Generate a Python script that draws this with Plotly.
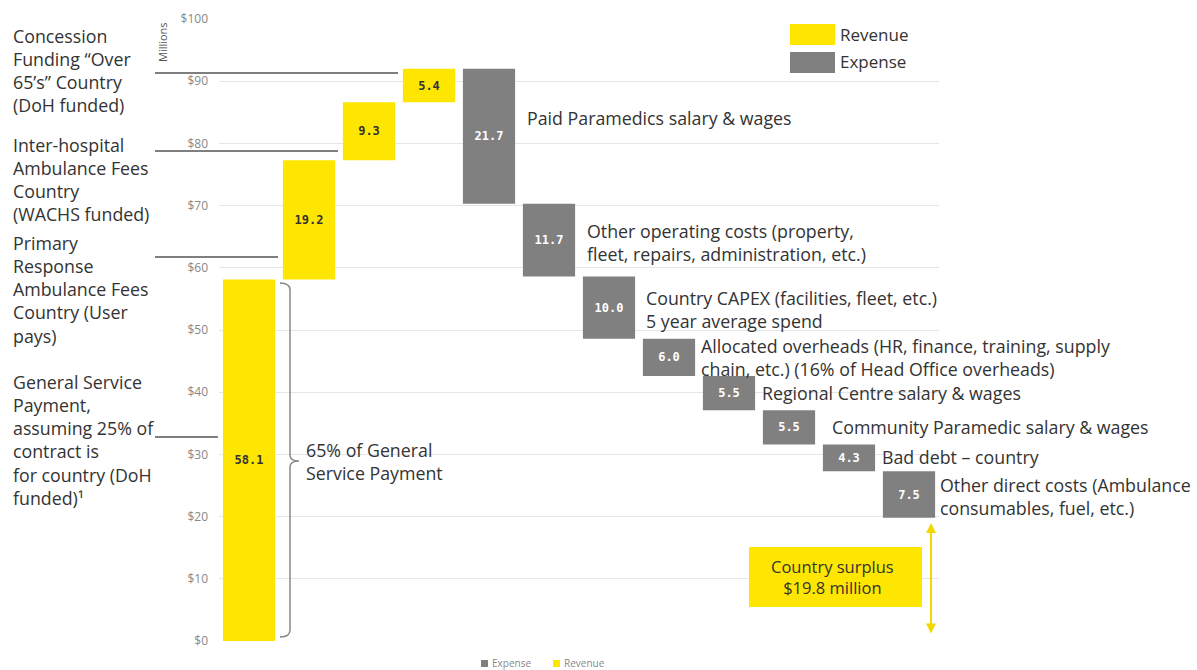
import plotly.graph_objects as go

# ---------------- data ----------------
categories = [
    "General Service Payment",
    "Primary Response Ambulance Fees",
    "Inter-hospital Ambulance Fees",
    "Concession Funding",
    "Paid Paramedics salary & wages",
    "Other operating costs",
    "Country CAPEX",
    "Allocated overheads",
    "Regional Centre salary & wages",
    "Community Paramedic salary & wages",
    "Bad debt - country",
    "Other direct costs",
]
revenue = [58.1, 19.2, 9.3, 5.4, None, None, None, None, None, None, None, None]
expense = [None, None, None, None, 21.7, 11.7, 10.0, 6.0, 5.5, 5.5, 4.3, 7.5]
y_ticks = [0, 10, 20, 30, 40, 50, 60, 70, 80, 90, 100]
y_tick_text = ["$0", "$10", "$20", "$30", "$40", "$50", "$60", "$70", "$80", "$90", "$100"]
surplus_text = "Country surplus<br>$19.8 million"

left_labels = [
    "Concession<br>Funding “Over<br>65’s” Country<br>(DoH funded)",
    "Inter-hospital<br>Ambulance Fees<br>Country<br>(WACHS funded)",
    "Primary<br>Response<br>Ambulance Fees<br>Country (User<br>pays)",
    "General Service<br>Payment,<br>assuming 25% of<br>contract is<br>for country (DoH<br>funded)¹",
]
right_labels = [
    "Paid Paramedics salary & wages",
    "Other operating costs (property,<br>fleet, repairs, administration, etc.)",
    "Country CAPEX (facilities, fleet, etc.)<br>5 year average spend",
    "Allocated overheads (HR, finance, training, supply<br>chain, etc.) (16% of Head Office overheads)",
    "Regional Centre salary & wages",
    "Community Paramedic salary & wages",
    "Bad debt – country",
    "Other direct costs (Ambulance<br>consumables, fuel, etc.)",
]

# ---------------- waterfall bases ----------------
rev_base, exp_base = [], []
running = 0.0
for r, e in zip(revenue, expense):
    if r is not None:
        rev_base.append(running)
        exp_base.append(None)
        running += r
    else:
        running -= e
        rev_base.append(None)
        exp_base.append(running)

YELLOW = "#FFE600"
GREY = "#808080"
TXT = "#333333"
FONT = "Open Sans"
FS = 17.8

# plot-area geometry (pixels) used for placing decorations
L, R, T, B = 219, 939, 19, 641
W, H = 1197, 670


def px(x):
    return (x - L) / (R - L)


def py(y):
    return (B - y) / (B - T)


fig = go.Figure()
fig.add_trace(go.Bar(
    name="Expense", x=categories, y=expense, base=exp_base,
    marker=dict(color=GREY, line=dict(width=0)), width=0.87,
    text=[f"{v:.1f}" if v is not None else "" for v in expense],
    textposition="inside", insidetextanchor="middle", textangle=0,
    textfont=dict(family="DejaVu Sans Mono", size=12, color="white", weight="bold"),
    constraintext="none", showlegend=False,
))
fig.add_trace(go.Bar(
    name="Revenue", x=categories, y=revenue, base=rev_base,
    marker=dict(color=YELLOW, line=dict(width=0)), width=0.87,
    text=[f"{v:.1f}" if v is not None else "" for v in revenue],
    textposition="inside", insidetextanchor="middle", textangle=0,
    textfont=dict(family="DejaVu Sans Mono", size=12, color=TXT, weight="bold"),
    constraintext="none", showlegend=False,
))

shapes = []
annotations = []

# left labels + connector lines
left_tops = [22, 131, 229, 368]
for txt, yt in zip(left_labels, left_tops):
    annotations.append(dict(
        x=px(11), y=py(yt), xref="paper", yref="paper", text=txt, showarrow=False,
        xanchor="left", yanchor="top", align="left",
        font=dict(family=FONT, size=FS, color=TXT),
    ))
for (yy, x2) in [(73, 398), (151, 338), (257, 278), (437, 218)]:
    shapes.append(dict(type="line", xref="paper", yref="paper",
                       x0=px(155), x1=px(x2), y0=py(yy), y1=py(yy),
                       line=dict(color="#555555", width=1.5)))

# right labels next to expense bars
right_pos = [(525, 118), (585, 243), (644, 309), (699, 357), (760, 393), (830, 427), (880, 457), (938, 496)]
for txt, (xx, yy) in zip(right_labels, right_pos):
    annotations.append(dict(
        x=px(xx), y=py(yy), xref="paper", yref="paper", text=txt, showarrow=False,
        xanchor="left", yanchor="middle", align="left",
        font=dict(family=FONT, size=FS, color=TXT),
    ))

# "Millions"
annotations.append(dict(x=px(163), y=py(42), xref="paper", yref="paper", text="Millions",
                        showarrow=False, textangle=-90, xanchor="center", yanchor="middle",
                        font=dict(family=FONT, size=11, color="#555555")))

# bracket
def P(x, y):
    return f"{px(x):.5f},{py(y):.5f}"

path = (f"M {P(280,283)} Q {P(290,283)} {P(290,290)} L {P(290,455)} "
        f"Q {P(290,461)} {P(299,461)} Q {P(290,461)} {P(290,467)} "
        f"L {P(290,630)} Q {P(290,637)} {P(280,637)}")
shapes.append(dict(type="path", xref="paper", yref="paper", path=path,
                   line=dict(color="#888888", width=1.5)))
annotations.append(dict(x=px(304), y=py(461), xref="paper", yref="paper",
                        text="65% of General<br>Service Payment", showarrow=False,
                        xanchor="left", yanchor="middle", align="left",
                        font=dict(family=FONT, size=FS, color=TXT)))

# surplus box
shapes.append(dict(type="rect", xref="paper", yref="paper",
                   x0=px(749), x1=px(922), y0=py(607), y1=py(547),
                   fillcolor=YELLOW, line=dict(width=0)))
annotations.append(dict(x=px(832), y=py(577), xref="paper", yref="paper",
                        text=surplus_text, showarrow=False, xanchor="center", yanchor="middle",
                        align="center", font=dict(family=FONT, size=16.5, color=TXT)))
# double arrow
annotations.append(dict(x=px(931), y=py(523), ax=0, ay=112,
                        xref="paper", yref="paper", axref="pixel", ayref="pixel",
                        text="", showarrow=True, arrowhead=2, startarrowhead=2,
                        arrowside="end+start", arrowsize=1, arrowwidth=2, arrowcolor="#F2D800"))

# top-right legend
shapes.append(dict(type="rect", xref="paper", yref="paper", x0=px(790), x1=px(835),
                   y0=py(45), y1=py(24), fillcolor=YELLOW, line=dict(width=0)))
shapes.append(dict(type="rect", xref="paper", yref="paper", x0=px(790), x1=px(835),
                   y0=py(73), y1=py(52), fillcolor=GREY, line=dict(width=0)))
annotations.append(dict(x=px(838), y=py(35), xref="paper", yref="paper", text="Revenue",
                        showarrow=False, xanchor="left", yanchor="middle",
                        font=dict(family=FONT, size=17, color=TXT)))
annotations.append(dict(x=px(838), y=py(62), xref="paper", yref="paper", text="Expense",
                        showarrow=False, xanchor="left", yanchor="middle",
                        font=dict(family=FONT, size=17, color=TXT)))

# small bottom legend
shapes.append(dict(type="rect", xref="paper", yref="paper", x0=px(481), x1=px(488),
                   y0=py(667), y1=py(660), fillcolor="#7f7f7f", line=dict(width=0)))
shapes.append(dict(type="rect", xref="paper", yref="paper", x0=px(553), x1=px(560),
                   y0=py(667), y1=py(660), fillcolor=YELLOW, line=dict(width=0)))
annotations.append(dict(x=px(490), y=py(663), xref="paper", yref="paper", text="Expense",
                        showarrow=False, xanchor="left", yanchor="middle",
                        font=dict(family=FONT, size=10, color="#888888")))
annotations.append(dict(x=px(562), y=py(663), xref="paper", yref="paper", text="Revenue",
                        showarrow=False, xanchor="left", yanchor="middle",
                        font=dict(family=FONT, size=10, color="#888888")))

fig.update_layout(
    width=W, height=H,
    margin=dict(l=L, r=W - R, t=T, b=H - B, autoexpand=False),
    paper_bgcolor="white", plot_bgcolor="white",
    barmode="overlay", showlegend=False,
    shapes=shapes, annotations=annotations,
    font=dict(family=FONT, color=TXT),
)
fig.update_xaxes(type="category", range=[-0.5, 11.5], showticklabels=False,
                 showgrid=False, zeroline=False, showline=False, ticks="")
fig.update_yaxes(range=[0, 100], tickvals=y_ticks, ticktext=y_tick_text, showgrid=True,
                 gridcolor="#e6e6e6", gridwidth=1, zeroline=False, showline=False,
                 ticks="", ticklabelstandoff=10,
                 tickfont=dict(family=FONT, size=12, color="#888888"))

fig.write_html("out.html", config={"displayModeBar": False},
               post_script="document.body.style.margin='0';")
